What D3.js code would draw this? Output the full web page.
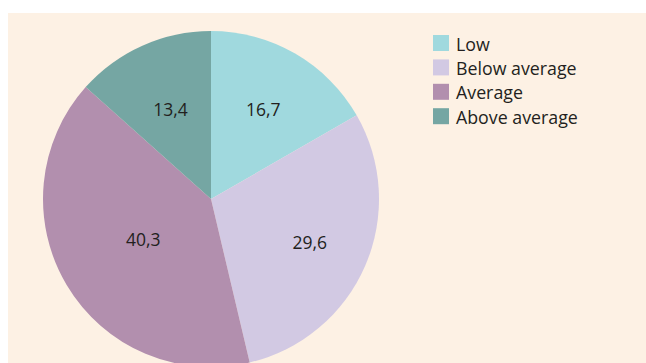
<!DOCTYPE html>
<html>
<head>
<meta charset="utf-8">
<script src="https://cdn.jsdelivr.net/npm/d3@7"></script>
<style>
  html, body { margin: 0; padding: 0; background: #ffffff; }
  svg { display: block; }
  text { font-family: "Open Sans", "Noto Sans", sans-serif; fill: #231f20; }
</style>
</head>
<body>
<svg id="chart" width="646" height="363"></svg>
<script>
// Share of respondents per level (percent)
const categories = ["Low", "Below average", "Average", "Above average"];
const shares = [16.7, 29.6, 40.3, 13.4];
const sliceColors = ["#a0d9de", "#d2c9e3", "#b28fae", "#75a6a3"];

const width = 646, height = 363;
const svg = d3.select("#chart");

// Panel background
svg.append("rect")
  .attr("x", 8).attr("y", 13)
  .attr("width", width - 8).attr("height", height - 13)
  .attr("fill", "#fdf1e4");

const cx = 211, cy = 199, radius = 168;

// Where each value label sits along its slice's bisector, as a fraction of the radius
const labelRadiusFactor = [0.62, 0.64, 0.47, 0.59];

const color = d3.scaleOrdinal().domain(categories).range(sliceColors);

const pie = d3.pie().sort(null).value(d => d.value);
const data = categories.map((c, i) => ({ name: c, value: shares[i] }));
const arcs = pie(data);

const arc = d3.arc().innerRadius(0).outerRadius(radius);

const g = svg.append("g").attr("transform", `translate(${cx},${cy})`);

g.selectAll("path.slice")
  .data(arcs)
  .join("path")
  .attr("class", "slice")
  .attr("d", arc)
  .attr("fill", d => color(d.data.name));

const fmt = v => d3.format(".1f")(v).replace(".", ",");

g.selectAll("text.value")
  .data(arcs)
  .join("text")
  .attr("class", "value")
  .attr("transform", d => {
    const r = radius * labelRadiusFactor[d.index];
    return `translate(${d3.arc().innerRadius(r).outerRadius(r).centroid(d)})`;
  })
  .attr("text-anchor", "middle")
  .attr("dominant-baseline", "central")
  .attr("font-size", 17.5)
  .text(d => fmt(d.data.value));

// Legend
const legend = svg.append("g").attr("transform", "translate(433,35)");
const rowStep = 24.4;
const rows = legend.selectAll("g.row")
  .data(categories)
  .join("g")
  .attr("class", "row")
  .attr("transform", (d, i) => `translate(0,${i * rowStep})`);

rows.append("rect")
  .attr("width", 16).attr("height", 16)
  .attr("fill", d => color(d));

rows.append("text")
  .attr("x", 23).attr("y", 15.5)
  .attr("font-size", 17.8)
  .text(d => d);
</script>
</body>
</html>
